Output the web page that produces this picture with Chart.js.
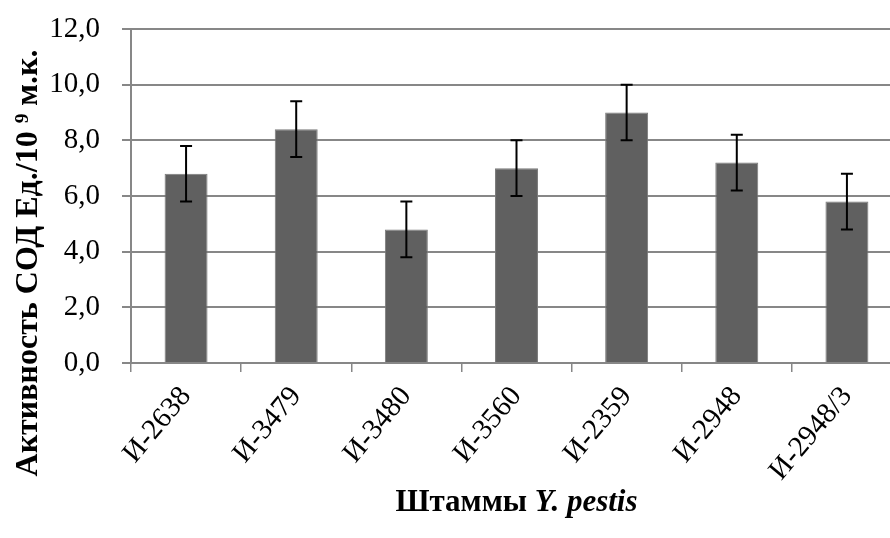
<!DOCTYPE html>
<html>
<head>
<meta charset="utf-8">
<script src="https://cdn.jsdelivr.net/npm/chart.js@4"></script>
<style>
  html, body { margin: 0; padding: 0; background: #fff; overflow: hidden; }
  #chart { display: block; }
</style>
</head>
<body>
<canvas id="chart" width="902" height="538"></canvas>
<script>
// data
var strains = ['И-2638', 'И-3479', 'И-3480', 'И-3560', 'И-2359', 'И-2948', 'И-2948/3']
var sodActivity = [6.8, 8.4, 4.8, 7.0, 9.0, 7.2, 5.8]
var sodError = [1.0, 1.0, 1.0, 1.0, 1.0, 1.0, 1.0]
var yTicks = [0, 2, 4, 6, 8, 10, 12]

var yTitle = 'Активность СОД Ед./10 \u2079 м.к.'
var xTitleMain = 'Штаммы '
var xTitleItalic = 'Y. pestis'

var gridColor = '#878787'
var serif = "'Liberation Serif', 'Times New Roman', serif"

const errorBars = {
    id: 'errorBars',
    afterDatasetsDraw: function (chart) {
        var ctx = chart.ctx
        var meta = chart.getDatasetMeta(0)
        var y = chart.scales.y
        ctx.save()
        ctx.strokeStyle = '#000'
        ctx.lineWidth = 2
        meta.data.forEach(function (bar, i) {
            var top = y.getPixelForValue(sodActivity[i] + sodError[i])
            var bottom = y.getPixelForValue(sodActivity[i] - sodError[i])
            ctx.beginPath()
            ctx.moveTo(bar.x, top)
            ctx.lineTo(bar.x, bottom)
            ctx.moveTo(bar.x - 6, top)
            ctx.lineTo(bar.x + 6, top)
            ctx.moveTo(bar.x - 6, bottom)
            ctx.lineTo(bar.x + 6, bottom)
            ctx.stroke()
        })
        ctx.restore()
    }
}

const axisTitles = {
    id: 'axisTitles',
    afterDraw: function (chart) {
        var ctx = chart.ctx
        var area = chart.chartArea
        ctx.save()
        ctx.fillStyle = '#000'
        // y title, rotated
        ctx.font = 'bold 32px ' + serif
        ctx.textAlign = 'center'
        ctx.textBaseline = 'middle'
        ctx.translate(29, 263)
        ctx.rotate(-Math.PI / 2)
        ctx.fillText(yTitle, 0, 0)
        ctx.setTransform(1, 0, 0, 1, 0, 0)
        // x title, mixed style
        var boldFont = 'bold 31px ' + serif
        var italicFont = 'italic bold 31px ' + serif
        ctx.font = boldFont
        var w1 = ctx.measureText(xTitleMain).width
        ctx.font = italicFont
        var w2 = ctx.measureText(xTitleItalic).width
        var cx = (area.left + area.right) / 2
        var x0 = cx - (w1 + w2) / 2
        ctx.textAlign = 'left'
        ctx.textBaseline = 'middle'
        ctx.font = boldFont
        ctx.fillText(xTitleMain, x0, 503)
        ctx.font = italicFont
        ctx.fillText(xTitleItalic, x0 + w1, 503)
        ctx.restore()
    }
}

const data = {
    labels: strains,
    datasets: [{
        data: sodActivity,
        backgroundColor: '#606060',
        borderColor: '#7a7a7a',
        borderWidth: 1,
        categoryPercentage: 1,
        barPercentage: 0.39
    }]
}

const config = {
    type: 'bar',
    data: data,
    options: {
        responsive: false,
        animation: false,
        devicePixelRatio: 1,
        layout: { padding: { top: 29, left: 0, right: 0, bottom: 0 } },
        plugins: {
            legend: { display: false },
            tooltip: { enabled: false }
        },
        scales: {
            x: {
                offset: true,
                grid: {
                    offset: true,
                    drawOnChartArea: false,
                    drawTicks: true,
                    tickLength: 9,
                    color: gridColor,
                    lineWidth: 1.5
                },
                border: { color: gridColor, width: 2 },
                ticks: {
                    color: '#000',
                    font: { family: serif, size: 29 },
                    minRotation: 50,
                    maxRotation: 50,
                    padding: 8
                },
                afterFit: function (scale) {
                    scale.height = 175
                    scale.paddingLeft = 0
                    scale.paddingRight = 0
                }
            },
            y: {
                min: 0,
                max: 12,
                afterBuildTicks: function (scale) {
                    scale.ticks = yTicks.map(function (v) { return { value: v } })
                },
                grid: {
                    color: gridColor,
                    lineWidth: 2,
                    tickLength: 9
                },
                border: { color: gridColor, width: 2 },
                ticks: {
                    color: '#000',
                    font: { family: serif, size: 29 },
                    padding: 22,
                    callback: function (v) { return v.toFixed(1).replace('.', ',') }
                },
                afterFit: function (scale) {
                    scale.width = 131
                    scale.paddingTop = 0
                    scale.paddingBottom = 0
                }
            }
        }
    },
    plugins: [errorBars, axisTitles]
}

const sodChart = new Chart(document.getElementById('chart'), config)
</script>
</body>
</html>
